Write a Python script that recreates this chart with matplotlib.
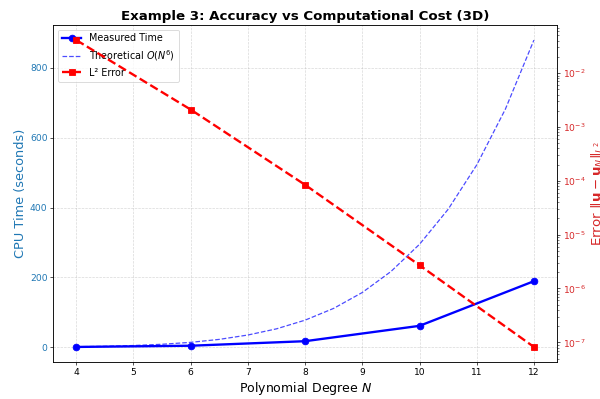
import numpy as np
import matplotlib
matplotlib.use("Agg")
from matplotlib import pyplot as plt

# ======================data======================
degrees = [4, 6, 8, 10, 12]
cpu_time = [0.5, 4.0, 17.0, 61.0, 189.0]
l2_error = [4.1e-2, 2.1e-3, 8.4e-5, 2.7e-6, 8.2e-8]

# theoretical O(N^6) curve
theory_n = [4, 4.5, 5, 5.5, 6, 6.5, 7, 7.5, 8, 8.5, 9, 9.5, 10, 10.5, 11, 11.5, 12]
theory_t = [1.2, 2.4, 4.6, 8.2, 13.7, 22.2, 34.7, 52.4, 77.3, 111.1, 156.6,
            216.6, 294.7, 394.9, 522.1, 681.7, 880.0]

# ======================plot======================
fig, ax1 = plt.subplots(figsize=(10, 6.65), dpi=60)

l1, = ax1.plot(degrees, cpu_time, 'bo-', linewidth=2.8, markersize=8, label='Measured Time')
l2, = ax1.plot(theory_n, theory_t, 'b--', linewidth=1.5, alpha=0.7, label='Theoretical $O(N^6)$')
ax1.set_xlabel('Polynomial Degree $N$', fontsize=15)
ax1.set_ylabel('CPU Time (seconds)', color='tab:blue', fontsize=15.5)
ax1.tick_params(axis='y', labelcolor='tab:blue', labelsize=11)
ax1.tick_params(axis='x', labelsize=11)
ax1.grid(True, linestyle='--', alpha=0.5)

ax2 = ax1.twinx()
l3, = ax2.semilogy(degrees, l2_error, 'rs--', linewidth=2.8, markersize=8, label='L² Error')
ax2.set_ylabel(r'Error $\|\mathbf{u} - \mathbf{u}_N\|_{L^2}$', color='tab:red', fontsize=16)
ax2.tick_params(axis='y', labelcolor='tab:red', labelsize=11)

ax1.legend(handles=[l1, l2, l3], loc='upper left', fontsize=11.5)
ax1.set_title('Example 3: Accuracy vs Computational Cost (3D)', fontsize=16, fontweight='bold')

fig.subplots_adjust(left=0.089, right=0.928, top=0.938, bottom=0.092)
fig.savefig('out.png', dpi=60)
